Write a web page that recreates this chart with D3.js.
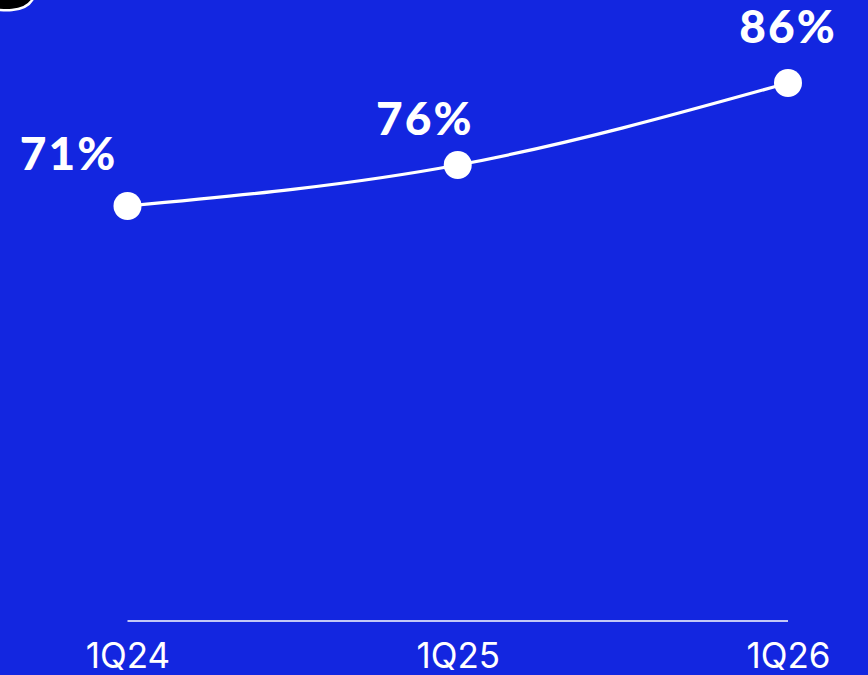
<!DOCTYPE html>
<html><head><meta charset="utf-8">
<script src="https://cdn.jsdelivr.net/npm/d3@7"></script>
<style>
html,body{margin:0;padding:0;background:#1326E0;}
svg{display:block;}
</style></head>
<body>
<script>
const categories = ["1Q24", "1Q25", "1Q26"];
const values = [71, 76, 86];
const valueLabels = ["71%", "76%", "86%"];

const W = 868, H = 675;
const bg = "#1326E0";
const svg = d3.select("body").append("svg").attr("width", W).attr("height", H);
svg.append("rect").attr("width", W).attr("height", H).attr("fill", bg);

// decorative corner artifact
svg.append("path")
  .attr("d", "M-10,-10 L36,-10 C34,2 26,9 12,10 C5,11 0,10 -10,9 Z")
  .attr("fill", "#000").attr("stroke", "#fff").attr("stroke-width", 2.5);

const x = d3.scalePoint().domain(categories).range([127.5, 788]);
const y = d3.scaleLinear().domain([20.4, 86]).range([621, 83]);

// axis baseline
const axis = d3.axisBottom(x).tickSize(0).tickPadding(0);
const gA = svg.append("g").attr("transform", "translate(0,621)").call(axis);
gA.select(".domain").attr("d", `M${x.range()[0]},0H${x.range()[1]}`)
  .attr("stroke", "#fff").attr("stroke-width", 1.6);
gA.selectAll("text").attr("fill", "#fff")
  .attr("font-family", "Inter, sans-serif").attr("font-size", 35).attr("font-weight", 400)
  .attr("dy", null).attr("y", 47);

const data = categories.map((c, i) => ({c, v: values[i], l: valueLabels[i]}));

const line = d3.line().x(d => x(d.c)).y(d => y(d.v)).curve(d3.curveMonotoneX);
svg.append("path").datum(data).attr("d", line)
  .attr("fill", "none").attr("stroke", "#fff").attr("stroke-width", 3.2);

svg.selectAll("circle.pt").data(data).enter().append("circle")
  .attr("class", "pt").attr("cx", d => x(d.c)).attr("cy", d => y(d.v)).attr("r", 14)
  .attr("fill", "#fff");

const labelOffsets = [[-59, -36], [-33, -30], [0, -40]];
svg.selectAll("text.vl").data(data).enter().append("text")
  .attr("class", "vl")
  .attr("x", (d, i) => x(d.c) + labelOffsets[i][0])
  .attr("y", (d, i) => y(d.v) + labelOffsets[i][1])
  .attr("text-anchor", "middle")
  .attr("fill", "#fff").attr("font-family", "Lato, sans-serif").attr("font-weight", 900)
  .attr("font-size", 46).attr("letter-spacing", 2)
  .text(d => d.l);
</script>
</body></html>
